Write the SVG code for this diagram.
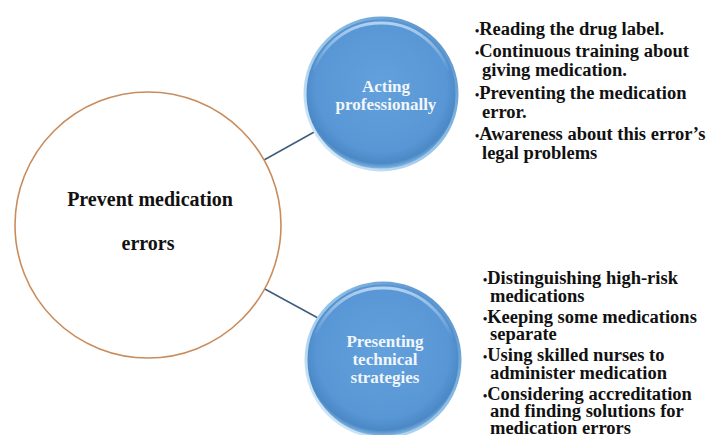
<svg xmlns="http://www.w3.org/2000/svg" width="716" height="435" viewBox="0 0 716 435">
  <defs>
    <radialGradient id="blueFill" cx="50%" cy="45%" r="55%">
      <stop offset="0%" stop-color="#62a1dc"/>
      <stop offset="78%" stop-color="#5896d5"/>
      <stop offset="92%" stop-color="#4b88c6"/>
      <stop offset="100%" stop-color="#8fc0e8"/>
    </radialGradient>
    <linearGradient id="rim" x1="1" y1="0" x2="0" y2="1">
      <stop offset="0%" stop-color="#4a86c2"/>
      <stop offset="45%" stop-color="#8dbfe6"/>
      <stop offset="100%" stop-color="#e6f3fc"/>
    </linearGradient>
    <linearGradient id="gloss" x1="0" y1="0" x2="0" y2="1">
      <stop offset="0%" stop-color="#cfe6f8" stop-opacity="0.75"/>
      <stop offset="35%" stop-color="#cfe6f8" stop-opacity="0"/>
    </linearGradient>
  </defs>
  <style>
    .main { fill: #ffffff; stroke: #c98c5c; stroke-width: 1.6; }
    .blue { fill: url(#blueFill); stroke: url(#rim); stroke-width: 3; }
    .gloss { fill: none; stroke: url(#gloss); stroke-width: 3; }
    .conn { stroke: #3d5d7c; stroke-width: 1.5; fill: none; }
    .t-main { font-family: "Liberation Serif", "Times New Roman", serif; font-weight: bold; font-size: 20px; fill: #111111; text-anchor: middle; }
    .t-blue { font-family: "Liberation Serif", "Times New Roman", serif; font-weight: bold; font-size: 17px; fill: #f2f6fa; text-anchor: middle; }
    .t-list { font-family: "Liberation Serif", "Times New Roman", serif; font-weight: bold; font-size: 18.5px; fill: #111111; }
    .dot { font-size: 12px; }
  </style>
  <rect width="716" height="435" fill="#ffffff"/>
  <g id="connectors">
    <line class="conn" x1="264" y1="160" x2="316" y2="131"/>
    <line class="conn" x1="263" y1="288" x2="318" y2="318"/>
  </g>
  <g id="node-main">
    <circle class="main" cx="148" cy="225" r="133"/>
    <text class="t-main" x="150" y="206">Prevent medication</text>
    <text class="t-main" x="148" y="250">errors</text>
  </g>
  <g id="node-acting">
    <circle class="blue" cx="381" cy="94" r="76"/>
    <circle class="gloss" cx="381" cy="94" r="71"/>
    <text class="t-blue"><tspan x="386" y="92">Acting</tspan><tspan x="386" y="110">professionally</tspan></text>
  </g>
  <g id="node-presenting">
    <circle class="blue" cx="383" cy="360" r="77"/>
    <circle class="gloss" cx="383" cy="360" r="72"/>
    <text class="t-blue"><tspan x="385" y="347">Presenting</tspan><tspan x="385" y="365">technical</tspan><tspan x="385" y="383">strategies</tspan></text>
  </g>
  <g id="list-acting">
    <text class="t-list">
      <tspan x="475" y="35"><tspan class="dot">•</tspan>Reading the drug label.</tspan>
      <tspan x="475" y="57"><tspan class="dot">•</tspan>Continuous training about</tspan>
      <tspan x="482" y="75.5">giving medication.</tspan>
      <tspan x="475" y="99"><tspan class="dot">•</tspan>Preventing the medication</tspan>
      <tspan x="482" y="117.5">error.</tspan>
      <tspan x="475" y="140"><tspan class="dot">•</tspan>Awareness about this error’s</tspan>
      <tspan x="482" y="158.5">legal problems</tspan>
    </text>
  </g>
  <g id="list-presenting">
    <text class="t-list">
      <tspan x="483" y="284"><tspan class="dot">•</tspan>Distinguishing high-risk</tspan>
      <tspan x="490" y="301.5">medications</tspan>
      <tspan x="483" y="322.5"><tspan class="dot">•</tspan>Keeping some medications</tspan>
      <tspan x="490" y="340">separate</tspan>
      <tspan x="483" y="361"><tspan class="dot">•</tspan>Using skilled nurses to</tspan>
      <tspan x="490" y="378.5">administer medication</tspan>
      <tspan x="483" y="399.5"><tspan class="dot">•</tspan>Considering accreditation</tspan>
      <tspan x="490" y="417">and finding solutions for</tspan>
      <tspan x="490" y="434">medication errors</tspan>
    </text>
  </g>
</svg>
